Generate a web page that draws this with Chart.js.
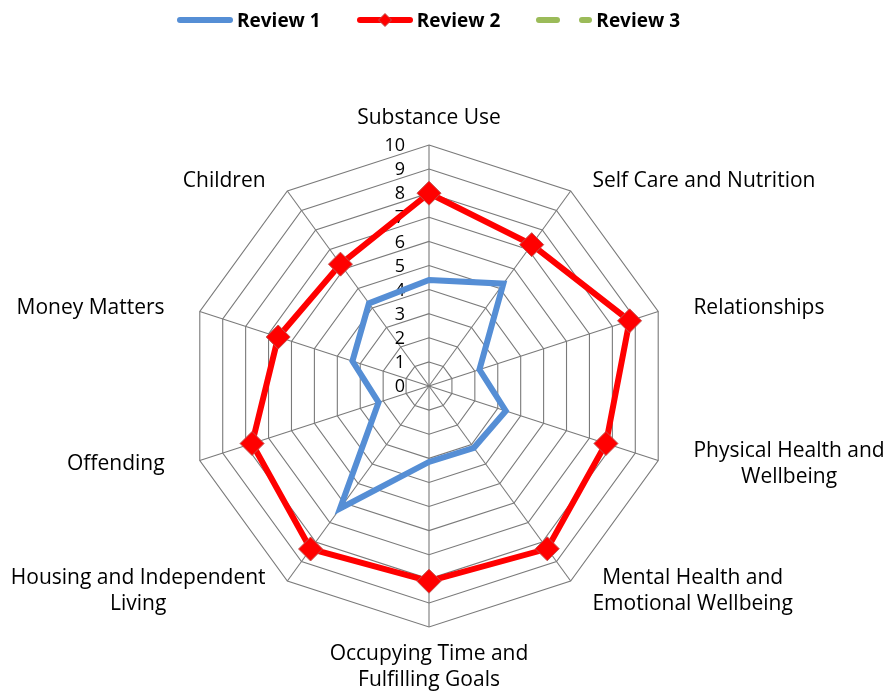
<!DOCTYPE html>
<html lang="en">
<head>
  <meta charset="UTF-8" />
  <title>Outcomes Star Reviews</title>
  <script src="https://cdn.jsdelivr.net/npm/chart.js"></script>
  <style>
    body {
      margin: 0;
      background: #fff;
      font-family: "Open Sans", Arial, sans-serif;
    }
    .wrap {
      position: relative;
      width: 885px;
      height: 693px;
    }
    #legend {
      position: absolute;
      left: 177px;
      top: 7px;
      display: flex;
      align-items: center;
      font-weight: bold;
      font-size: 19px;
      color: #000;
    }
    #legend .item {
      display: flex;
      align-items: center;
      margin-right: 36px;
    }
    #legend svg {
      margin-right: 4px;
    }
  </style>
</head>
<body>
  <div class="wrap">
    <canvas id="chart" width="885" height="693"></canvas>
    <div id="legend"></div>
  </div>

  <script>
    const categories = [
      'Substance Use',
      'Self Care and Nutrition',
      'Relationships',
      'Physical Health and\nWellbeing',
      'Mental Health and\nEmotional Wellbeing',
      'Occupying Time and\nFulfilling Goals',
      'Housing and Independent\nLiving',
      'Offending',
      'Money Matters',
      'Children'
    ];
    const review1 = [4.4, 5.25, 2.2, 3.35, 3.17, 3.15, 6.28, 2.2, 3.34, 4.24];
    const review2 = [8, 7.25, 8.75, 7.72, 8.35, 8.1, 8.36, 7.72, 6.58, 6.25];
    const review3 = [null, null, null, null, null, null, null, null, null, null];
    const seriesNames = ['Review 1', 'Review 2', 'Review 3'];
    const seriesColors = ['#558ED5', '#FF0000', '#9BBB59'];
    const scaleMin = 0;
    const scaleMax = 10;

    const GRID = '#7a7a7a';
    const LINE_H = 26;

    // tick numbers sit just left of the vertical spoke, under the data lines
    const tickNumbers = {
      id: 'tickNumbers',
      beforeDatasetsDraw(chart) {
        const scale = chart.scales.r;
        const ctx = chart.ctx;
        ctx.save();
        ctx.font = '18px "Open Sans"';
        ctx.fillStyle = '#000';
        ctx.textAlign = 'right';
        ctx.textBaseline = 'middle';
        scale.ticks.forEach(t => {
          const d = scale.getDistanceFromCenterForValue(t.value);
          ctx.fillText(t.label, scale.xCenter - 24, scale.yCenter - d + 1);
        });
        ctx.restore();
      }
    };

    // category names around the web, lines centred inside each block
    const spokeLabels = {
      id: 'spokeLabels',
      afterDraw(chart) {
        const scale = chart.scales.r;
        const ctx = chart.ctx;
        ctx.save();
        ctx.font = '21px "Open Sans"';
        ctx.fillStyle = '#000';
        ctx.textAlign = 'center';
        ctx.textBaseline = 'middle';
        categories.forEach((name, i) => {
          const lines = name.split('\n');
          const end = scale.getPointPosition(i, scale.drawingArea);
          const angle = i / categories.length * 2 * Math.PI;
          const s = Math.sin(angle), c = Math.cos(angle);
          const blockW = Math.max(...lines.map(l => ctx.measureText(l).width));
          const blockH = lines.length * LINE_H;
          let cx, top;
          if (Math.abs(s) < 0.01) {
            cx = end.x;
            top = c > 0 ? end.y - 14 - blockH : end.y + 14;
          } else {
            const ax = end.x + 37 * s;
            cx = s > 0 ? ax + blockW / 2 : ax - blockW / 2;
            top = end.y - 12 * c - blockH / 2;
          }
          lines.forEach((l, k) => ctx.fillText(l, cx, top + LINE_H * (k + 0.5)));
        });
        ctx.restore();
      }
    };

    function swatch(i) {
      const col = seriesColors[i];
      const base = `x1="3" y1="5" x2="53" y2="5" stroke="${col}" stroke-width="6" stroke-linecap="round"`;
      let inner = '';
      if (i === 0) {
        inner = `<line ${base}/>`;
      } else if (i === 1) {
        inner = `<line ${base}/>` +
          `<polygon points="28,-1.5 34.5,5 28,11.5 21.5,5" fill="${col}" stroke="#C0504D" stroke-width="1"/>`;
      } else {
        inner = `<line ${base} stroke-dasharray="18 25"/>`;
      }
      return `<svg width="56" height="12" viewBox="0 -1 56 12" overflow="visible">${inner}</svg>`;
    }

    document.getElementById('legend').innerHTML = seriesNames
      .map((n, i) => `<div class="item">${swatch(i)}<span>${n}</span></div>`)
      .join('');

    new Chart(document.getElementById('chart'), {
      type: 'radar',
      data: {
        labels: categories,
        datasets: [
          {
            label: seriesNames[0],
            data: review1,
            borderColor: seriesColors[0],
            borderWidth: 6,
            fill: false,
            pointRadius: 0,
            pointHoverRadius: 0
          },
          {
            label: seriesNames[1],
            data: review2,
            borderColor: seriesColors[1],
            borderWidth: 6,
            fill: false,
            pointStyle: 'rectRot',
            pointRadius: 12,
            pointHoverRadius: 12,
            pointBackgroundColor: seriesColors[1],
            pointBorderColor: '#C0504D',
            pointBorderWidth: 1
          },
          {
            label: seriesNames[2],
            data: review3,
            borderColor: seriesColors[2],
            borderWidth: 6,
            borderDash: [19, 24],
            fill: false,
            pointRadius: 0
          }
        ]
      },
      options: {
        responsive: false,
        animation: false,
        layout: {
          padding: { left: 188, right: 215, top: 145, bottom: 66 }
        },
        elements: {
          line: { tension: 0, borderJoinStyle: 'miter' }
        },
        plugins: {
          legend: { display: false },
          tooltip: { enabled: false }
        },
        scales: {
          r: {
            min: scaleMin,
            max: scaleMax,
            ticks: { stepSize: 1, display: false },
            grid: { color: GRID, lineWidth: 1.1, circular: false },
            angleLines: { color: GRID, lineWidth: 1.1 },
            pointLabels: { display: false }
          }
        }
      },
      plugins: [tickNumbers, spokeLabels]
    });
  </script>
</body>
</html>
